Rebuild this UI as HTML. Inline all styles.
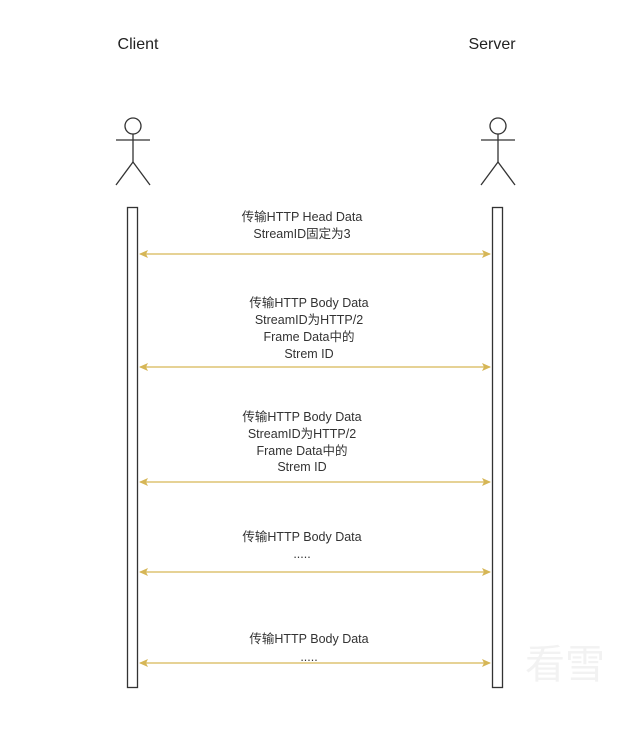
<!DOCTYPE html>
<html><head><meta charset="utf-8"><style>
html,body{margin:0;padding:0;background:#fff;}
svg text{font-family:"Liberation Sans","Noto Sans CJK SC",sans-serif;fill:#333;}
</style></head><body>
<svg width="634" height="727" viewBox="0 0 634 727" xmlns="http://www.w3.org/2000/svg">
<defs>
<marker id="a" markerWidth="10" markerHeight="10" refX="8" refY="4" orient="auto-start-reverse" markerUnits="userSpaceOnUse">
<path d="M0,0 L9,4 L0,8 L2,4 Z" fill="#d6b656"/>
</marker>
</defs>
<text x="138" y="49" font-size="16" text-anchor="middle" style="fill:#222">Client</text>
<text x="492" y="49" font-size="16" text-anchor="middle" style="fill:#222">Server</text>
<g stroke="#333" stroke-width="1.3" fill="none">
<circle cx="133" cy="126" r="8" fill="#fff"/>
<line x1="133" y1="134" x2="133" y2="162"/><line x1="116" y1="140" x2="150" y2="140"/>
<line x1="133" y1="162" x2="116" y2="185"/><line x1="133" y1="162" x2="150" y2="185"/>
<circle cx="498" cy="126" r="8" fill="#fff"/>
<line x1="498" y1="134" x2="498" y2="162"/><line x1="481" y1="140" x2="515" y2="140"/>
<line x1="498" y1="162" x2="481" y2="185"/><line x1="498" y1="162" x2="515" y2="185"/>
</g>
<rect x="127.5" y="207.5" width="10" height="480" fill="#fff" stroke="#333" stroke-width="1.3"/>
<rect x="492.5" y="207.5" width="10" height="480" fill="#fff" stroke="#333" stroke-width="1.3"/>
<g stroke="#d6b656" stroke-width="1.3" marker-start="url(#a)" marker-end="url(#a)">
<line x1="140" y1="254" x2="490" y2="254"/>
<line x1="140" y1="367" x2="490" y2="367"/>
<line x1="140" y1="482" x2="490" y2="482"/>
<line x1="140" y1="572" x2="490" y2="572"/>
<line x1="140" y1="663" x2="490" y2="663"/>
</g>
<g font-size="12.5" text-anchor="middle">
<text x="302" y="221">传输HTTP Head Data</text>
<text x="302" y="238">StreamID固定为3</text>
<text x="309" y="307">传输HTTP Body Data</text>
<text x="309" y="324">StreamID为HTTP/2</text>
<text x="309" y="341">Frame Data中的</text>
<text x="309" y="358">Strem ID</text>
<text x="302" y="421">传输HTTP Body Data</text>
<text x="302" y="438">StreamID为HTTP/2</text>
<text x="302" y="455">Frame Data中的</text>
<text x="302" y="471">Strem ID</text>
<text x="302" y="541">传输HTTP Body Data</text>
<text x="302" y="558">.....</text>
<text x="309" y="643">传输HTTP Body Data</text>
<text x="309" y="661">.....</text>
</g>
<text x="565" y="678" font-size="40" text-anchor="middle" style="fill:#f2f2f2;font-family:'Noto Sans CJK SC',sans-serif">看雪</text>
</svg>
</body></html>
